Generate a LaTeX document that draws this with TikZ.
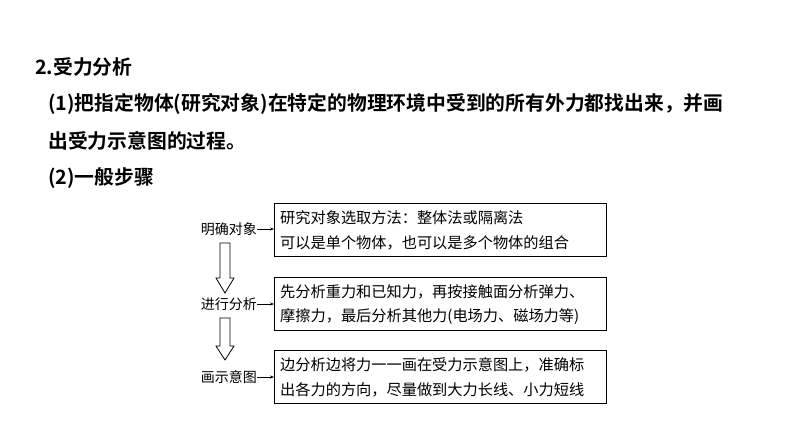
\documentclass[tikz,border=0pt]{standalone}
\usepackage{fontspec}
\usetikzlibrary{arrows.meta}
\newfontfamily\cjk{Noto Sans CJK SC}
\newfontfamily\cjkb{Noto Sans CJK SC Bold}
\begin{document}
\begin{tikzpicture}[x=1pt,y=-1pt,
  head/.style={anchor=west,inner sep=0pt,font=\cjkb\fontsize{19.8}{24}\selectfont},
  lab/.style={anchor=east,inner sep=0pt,font=\cjk\fontsize{14}{17}\selectfont},
  stepbox/.style={draw,line width=1pt,anchor=north west,inner sep=0pt},
  txt/.style={anchor=west,inner sep=0pt,font=\cjk\fontsize{15.2}{18}\selectfont},
  hollow/.style={draw,line width=0.8pt,fill=white}]
\useasboundingbox (0,0) rectangle (794,447);
\node[head] (h) at (35,67) {2.受力分析};
\node[head] (l1) at (48,104) {(1)把指定物体(研究对象)在特定的物理环境中受到的所有外力都找出来，并画};
\node[head] (l2) at (48,141) {出受力示意图的过程。};
\node[head] (l3) at (48,178) {(2)一般步骤};
\node[stepbox,minimum width=332,minimum height=53] (b1) at (274,203) {};
\node[stepbox,minimum width=332,minimum height=53] (b2) at (274,277) {};
\node[stepbox,minimum width=332,minimum height=53] (b3) at (274,350) {};
\node[txt] (t11) at (280,218) {研究对象选取方法：整体法或隔离法};
\node[txt] (t12) at (280,243) {可以是单个物体，也可以是多个物体的组合};
\node[txt] (t21) at (280,292) {先分析重力和已知力，再按接触面分析弹力、};
\node[txt] (t22) at (280,317) {摩擦力，最后分析其他力(电场力、磁场力等)};
\node[txt] (t31) at (280,365) {边分析边将力一一画在受力示意图上，准确标};
\node[txt] (t32) at (280,390) {出各力的方向，尽量做到大力长线、小力短线};
\node[lab] (a1) at (257,229) {明确对象};
\node[lab] (a2) at (257,304) {进行分析};
\node[lab] (a3) at (257,377) {画示意图};
\foreach \i in {1,2,3}{\draw[-{Stealth[length=4pt,width=3pt]},line width=0.7pt] (a\i.east) -- (b\i.west |- a\i.east);}
\draw[hollow] (220,243) -- (230,243) -- (230,278) -- (234,278) -- (225,293) -- (216,278) -- (220,278) -- cycle;
\draw[hollow] (220,318) -- (230,318) -- (230,346) -- (234,346) -- (225,360) -- (216,346) -- (220,346) -- cycle;
\end{tikzpicture}
\end{document}
